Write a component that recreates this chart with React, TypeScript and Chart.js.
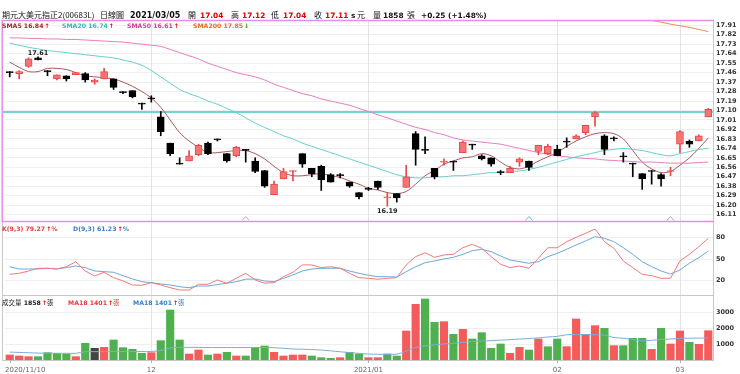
import React, { useEffect, useRef } from 'react';
import { Chart, registerables } from 'chart.js';

Chart.register(...registerables);

const stockName = '期元大美元指正2(00683L)';
const chartTitle = '日線圖';

const dates = [
  '2020/11/10','2020/11/11','2020/11/12','2020/11/13','2020/11/16','2020/11/17','2020/11/18','2020/11/19','2020/11/20','2020/11/23','2020/11/24','2020/11/25','2020/11/26','2020/11/27','2020/11/30',
  '2020/12/01','2020/12/02','2020/12/03','2020/12/04','2020/12/07','2020/12/08','2020/12/09','2020/12/10','2020/12/11','2020/12/14','2020/12/15','2020/12/16','2020/12/17','2020/12/18','2020/12/21','2020/12/22','2020/12/23','2020/12/24','2020/12/25','2020/12/28','2020/12/29','2020/12/30','2020/12/31',
  '2021/01/04','2021/01/05','2021/01/06','2021/01/07','2021/01/08','2021/01/11','2021/01/12','2021/01/13','2021/01/14','2021/01/15','2021/01/18','2021/01/19','2021/01/20','2021/01/21','2021/01/22','2021/01/25','2021/01/26','2021/01/27','2021/01/28','2021/01/29',
  '2021/02/01','2021/02/02','2021/02/03','2021/02/04','2021/02/05','2021/02/17','2021/02/18','2021/02/19','2021/02/22','2021/02/23','2021/02/24','2021/02/25','2021/02/26',
  '2021/03/02','2021/03/03','2021/03/04','2021/03/05',
];

const opens = [
  17.47,17.45,17.52,17.60,17.48,17.40,17.43,17.44,17.45,17.37,17.40,17.40,17.28,17.29,17.17,
  17.22,17.04,16.79,16.60,16.62,16.68,16.79,16.83,16.69,16.67,16.73,16.62,16.53,16.30,16.45,16.52,16.69,16.55,16.57,16.49,16.49,16.42,16.32,
  16.36,16.43,16.27,16.31,16.37,16.88,16.73,16.55,16.61,16.62,16.70,16.78,16.67,16.65,16.52,16.51,16.61,16.62,16.71,16.69,
  16.73,16.81,16.83,16.89,17.04,16.86,16.84,16.67,16.60,16.50,16.53,16.49,16.52,
  16.78,16.81,16.81,17.04,
];
const highs = [
  17.47,17.48,17.60,17.61,17.48,17.44,17.43,17.46,17.46,17.40,17.50,17.40,17.28,17.29,17.17,
  17.24,17.09,16.79,16.65,16.72,16.78,16.80,16.83,16.69,16.76,16.73,16.65,16.53,16.43,16.55,16.53,16.69,16.55,16.58,16.50,16.50,16.42,16.32,
  16.37,16.43,16.32,16.31,16.58,16.90,16.85,16.55,16.64,16.62,16.81,16.78,16.68,16.65,16.53,16.57,16.65,16.62,16.77,16.78,
  16.77,16.84,16.87,16.96,17.09,16.87,16.85,16.70,16.60,16.50,16.53,16.50,16.56,
  16.91,16.82,16.87,17.12,
];
const lows = [
  17.42,17.40,17.51,17.58,17.43,17.39,17.38,17.44,17.37,17.35,17.40,17.30,17.26,17.22,17.11,
  17.18,16.86,16.67,16.59,16.62,16.67,16.68,16.81,16.61,16.66,16.61,16.51,16.37,16.30,16.45,16.43,16.56,16.47,16.34,16.42,16.46,16.37,16.26,
  16.34,16.35,16.19,16.23,16.37,16.58,16.69,16.45,16.58,16.53,16.70,16.73,16.63,16.57,16.49,16.51,16.57,16.53,16.68,16.68,
  16.67,16.75,16.83,16.87,16.95,16.68,16.81,16.61,16.47,16.35,16.40,16.38,16.48,
  16.70,16.75,16.81,17.04,
];
const closes = [
  17.46,17.47,17.59,17.58,17.47,17.44,17.40,17.46,17.39,17.39,17.47,17.32,17.27,17.23,17.16,
  17.21,16.90,16.69,16.59,16.67,16.77,16.69,16.82,16.62,16.75,16.72,16.52,16.38,16.40,16.52,16.53,16.59,16.50,16.44,16.42,16.48,16.38,16.28,
  16.35,16.37,16.28,16.27,16.47,16.73,16.72,16.47,16.62,16.61,16.80,16.77,16.64,16.59,16.51,16.55,16.64,16.56,16.77,16.76,
  16.67,16.80,16.86,16.96,17.08,16.73,16.83,16.66,16.59,16.45,16.52,16.45,16.53,
  16.90,16.78,16.86,17.11,
];
const prevClose = 17.45;

const volumes = [
  320,254,211,211,465,423,380,211,1057,740,803,1268,782,676,423,
  465,1226,3170,1268,380,634,317,380,486,254,254,803,888,486,254,317,317,254,148,106,148,486,380,
  148,148,380,254,1839,3530,3868,2390,2430,1627,1945,1332,1733,740,1014,423,803,634,1332,845,
  1332,845,2600,1627,2177,2008,909,909,1374,1374,676,2008,1014,
  1839,1120,994,1858,
];
const volMA18 = [
  500,480,460,440,430,425,425,425,520,530,530,540,540,540,540,
  540,600,760,800,800,800,790,790,790,790,790,790,790,780,740,700,680,660,630,580,520,470,420,
  380,360,360,370,560,800,900,960,1020,1060,1120,1170,1200,1230,1260,1290,1330,1360,1400,1460,
  1500,1600,1620,1610,1600,1580,1420,1380,1300,1220,1250,1300,1330,
  1370,1380,1390,1401,
];

const sma5 = [
  17.56,17.51,17.47,17.47,17.50,17.50,17.49,17.46,17.43,17.42,17.41,17.40,17.37,17.33,17.28,
  17.22,17.13,17.01,16.89,16.81,16.75,16.70,16.70,16.71,16.72,16.72,16.69,16.64,16.57,16.51,16.48,16.48,16.49,16.50,16.48,16.465,16.43,16.40,
  16.36,16.345,16.32,16.31,16.33,16.40,16.48,16.53,16.59,16.62,16.65,16.66,16.69,16.67,16.61,16.56,16.545,16.57,16.62,16.66,
  16.70,16.76,16.81,16.85,16.88,16.89,16.88,16.83,16.72,16.61,16.545,16.51,16.52,
  16.58,16.65,16.74,16.84,
];
const sma20 = [
  17.74,17.72,17.70,17.685,17.67,17.66,17.65,17.64,17.63,17.62,17.61,17.60,17.58,17.56,17.53,
  17.48,17.42,17.36,17.30,17.26,17.23,17.19,17.16,17.12,17.08,17.03,16.98,16.94,16.90,16.86,16.83,16.79,16.76,16.73,16.70,16.67,16.64,16.61,
  16.58,16.55,16.52,16.49,16.47,16.46,16.46,16.47,16.47,16.48,16.48,16.49,16.50,16.51,16.51,16.52,16.525,16.54,16.56,16.585,
  16.61,16.635,16.66,16.68,16.70,16.72,16.73,16.74,16.73,16.72,16.70,16.68,16.67,
  16.69,16.71,16.73,16.74,
];
const sma50 = [
  17.79,17.79,17.785,17.785,17.78,17.78,17.775,17.775,17.77,17.765,17.76,17.755,17.75,17.74,17.73,
  17.72,17.71,17.68,17.65,17.62,17.59,17.55,17.52,17.49,17.46,17.44,17.42,17.39,17.35,17.32,17.29,17.26,17.24,17.21,17.19,17.17,17.15,17.12,
  17.09,17.06,17.03,17.00,16.97,16.94,16.92,16.89,16.87,16.84,16.82,16.81,16.80,16.79,16.78,16.76,16.74,16.72,16.70,16.685,
  16.67,16.66,16.65,16.645,16.64,16.63,16.625,16.62,16.615,16.61,16.61,16.605,16.60,
  16.60,16.60,16.605,16.61,
];
const sma200 = [
  null,null,null,null,null,null,null,null,null,null,null,null,null,null,null,
  null,null,null,null,null,null,null,null,null,null,null,null,null,null,null,null,null,null,null,null,null,null,null,
  null,null,null,null,null,null,null,null,null,null,null,null,null,null,null,null,null,null,null,null,
  null,null,null,null,null,null,null,null,null,17.98,17.955,17.94,17.92,
  17.905,17.89,17.87,17.85,
];

const kValues = [
  28.9,30.3,33.5,37.3,37.3,36.3,39.5,46.5,33.5,26.6,31.7,24.2,19.6,14.0,13.6,
  17.2,14.0,10.2,7.0,7.0,15.0,15.0,21.0,16.5,23.3,30.3,21.0,16.5,17.2,25.6,31.7,42.0,42.0,38.2,39.5,37.3,30.3,24.2,
  23.3,22.0,23.3,24.2,42.0,53.5,59.0,52.6,55.9,56.8,66.0,70.8,65.2,53.5,42.9,38.2,40.5,37.3,51.2,66.0,
  66.0,74.4,80.5,86.1,92.1,74.4,65.2,47.5,38.2,28.9,27.0,23.3,23.3,
  47.5,56.8,67.4,79.27,
];
const dValues = [
  39.5,36.3,36.3,36.3,37.3,36.3,38.2,40.5,38.2,33.5,32.6,31.7,27.0,22.4,18.6,
  17.2,15.4,14.0,11.6,10.2,12.6,12.6,14.6,16.5,18.6,22.0,22.4,19.6,18.6,23.3,28.0,33.5,36.3,37.3,37.3,37.3,33.5,30.3,
  27.5,25.6,25.6,25.1,32.6,39.5,45.1,47.5,50.3,52.6,56.8,61.9,63.8,60.5,54.4,48.9,46.5,44.3,46.5,53.5,
  58.2,63.8,69.8,75.4,81.4,79.2,74.4,66.0,56.8,46.5,39.5,33.5,29.3,
  34.9,44.3,52.1,61.23,
];

const refLine = 17.085;
const priceTicks = [16.11,16.20,16.29,16.38,16.47,16.56,16.65,16.74,16.83,16.92,17.01,17.10,17.19,17.28,17.37,17.46,17.55,17.64,17.73,17.82,17.91];
const kdTicks = [20, 50, 80];
const volTicks = [1000, 2000, 3000];
const xTickDates = ['2020/11/10', '2020/12/01', '2021/01/04', '2021/02/01', '2021/03/02'];
const xTickTexts = ['2020/11/10', '12', '2021/01', '02', '03'];
const signalDates = ['2020/12/15', '2021/01/27', '2021/02/26'];

const FONT = '"DejaVu Sans", Verdana, sans-serif';
const CJK = '"Noto Sans CJK TC", "Noto Sans CJK SC", sans-serif';
const RED_FILL = '#f57575';
const RED_LINE = '#e8474a';
const UP_ARROW = '#e60000';
const DOWN_ARROW = '#17a017';
const signalColors = ['#c4a6c4', '#5cc9c9', '#b8a2b8'];
const LEG = `bold 6.2px ${FONT}`;

function drawText(ctx: any, s: string, x: number, y: number, font: string, color: string) {
  ctx.font = font;
  ctx.fillStyle = color;
  ctx.textAlign = 'left';
  ctx.fillText(s, x, y);
  return x + ctx.measureText(s).width;
}

function legendItem(ctx: any, x: number, y: number, label: string, arr: number[], color: string, digits: number, suffix: string, suffixColor?: string) {
  const last = arr[arr.length - 1];
  const prev = arr[arr.length - 2];
  const upDir = last >= prev;
  let nx = drawText(ctx, `${label} ${last.toFixed(digits)}`, x, y, LEG, color);
  nx = drawText(ctx, upDir ? '↑' : '↓', nx + 1, y, LEG, upDir ? UP_ARROW : DOWN_ARROW);
  if (suffix) drawText(ctx, suffix, nx, y, suffix === '張' ? `6.5px ${CJK}` : LEG, suffixColor || color);
}

const panelsPlugin = {
  id: 'panels',
  beforeDraw(chart: any) {
    const { ctx, width, height } = chart;
    ctx.save();
    ctx.fillStyle = '#ffffff';
    ctx.fillRect(0, 0, width, height);
    ctx.restore();
  },
  beforeDatasetsDraw(chart: any) {
    const { ctx, chartArea: a, scales } = chart;
    const xs = scales.x;
    const ys = scales.y;
    ctx.save();
    ctx.strokeStyle = '#e3e3e3';
    ctx.lineWidth = 1;
    xTickDates.forEach((d, k) => {
      if (k === 0) return;
      const px = Math.round(xs.getPixelForValue(dates.indexOf(d))) + 0.5;
      ctx.beginPath();
      ctx.moveTo(px, a.top);
      ctx.lineTo(px, a.bottom);
      ctx.stroke();
    });
    const py = ys.getPixelForValue(refLine);
    ctx.strokeStyle = '#74d3d3';
    ctx.lineWidth = 2;
    ctx.beginPath();
    ctx.moveTo(2, py);
    ctx.lineTo(a.right, py);
    ctx.stroke();
    ctx.restore();
  },
  afterDraw(chart: any) {
    const { ctx, chartArea: a, scales } = chart;
    const xs = scales.x, ys = scales.y, yk = scales.yKD, yv = scales.yVol;
    const line = (x1: number, y1: number, x2: number, y2: number) => {
      ctx.beginPath(); ctx.moveTo(x1, y1); ctx.lineTo(x2, y2); ctx.stroke();
    };
    ctx.save();
    ctx.textBaseline = 'alphabetic';
    // borders
    ctx.lineWidth = 1;
    ctx.strokeStyle = '#c8c8c8';
    line(2.5, yk.top, 2.5, yv.bottom);
    line(2, Math.round(yv.top) + 0.5, a.right, Math.round(yv.top) + 0.5);
    line(2, Math.round(yv.bottom) + 0.5, a.right + 1, Math.round(yv.bottom) + 0.5);
    line(Math.round(a.right) + 0.5, ys.top, Math.round(a.right) + 0.5, yv.bottom);
    ctx.strokeStyle = '#e48fe4';
    ctx.lineWidth = 1.5;
    line(1.5, Math.round(ys.top) + 0.5, a.right + 1, Math.round(ys.top) + 0.5);
    line(1.5, Math.round(ys.bottom) + 0.5, a.right + 1, Math.round(ys.bottom) + 0.5);
    line(2.25, ys.top, 2.25, ys.bottom + 1);

    // signal markers
    signalDates.forEach((d, k) => {
      const px = xs.getPixelForValue(dates.indexOf(d));
      const by = ys.bottom - 0.5;
      ctx.strokeStyle = signalColors[k];
      ctx.lineWidth = 1;
      ctx.beginPath();
      ctx.moveTo(px - 3.5, by);
      ctx.lineTo(px, by - 4);
      ctx.lineTo(px + 3.5, by);
      ctx.stroke();
    });

    // high / low labels
    const maxH = Math.max(...highs);
    const minL = Math.min(...lows);
    const hi = highs.indexOf(maxH);
    const lo = lows.indexOf(minL);
    ctx.font = `bold 6.5px ${FONT}`;
    ctx.fillStyle = '#222';
    ctx.textAlign = 'center';
    ctx.fillText(maxH.toFixed(2), xs.getPixelForValue(hi), ys.getPixelForValue(maxH) - 1.5);
    ctx.fillText(minL.toFixed(2), xs.getPixelForValue(lo), ys.getPixelForValue(minL) + 6.5);

    // x-axis labels
    ctx.font = `7px ${FONT}`;
    xTickDates.forEach((d, k) => {
      const px = xs.getPixelForValue(dates.indexOf(d));
      const w = ctx.measureText(xTickTexts[k]).width;
      const cx = Math.max(px, 5 + w / 2);
      ctx.fillStyle = '#666';
      ctx.textAlign = 'center';
      ctx.fillText(xTickTexts[k], cx, 372);
      ctx.strokeStyle = '#b0b0b0';
      ctx.lineWidth = 1;
      line(Math.round(px) + 0.5, a.bottom, Math.round(px) + 0.5, a.bottom + 3);
    });

    // header
    const n = dates.length - 1;
    const hd = `bold 8px ${FONT}`;
    const hb = `bold 7.4px ${FONT}`;
    const hc = `8px ${CJK}`;
    const chg = closes[n] - closes[n - 1];
    const pct = (chg / closes[n - 1]) * 100;
    const sign = chg >= 0 ? '+' : '-';
    drawText(ctx, stockName, 2, 18, hc, '#111');
    drawText(ctx, chartTitle, 100, 18, hc, '#111');
    drawText(ctx, dates[n], 130, 18, hd, '#111');
    drawText(ctx, '開', 188, 18, hc, '#111');
    drawText(ctx, opens[n].toFixed(2), 200, 18, hb, '#e00000');
    drawText(ctx, '高', 231, 18, hc, '#111');
    drawText(ctx, highs[n].toFixed(2), 242, 18, hb, '#e00000');
    drawText(ctx, '低', 271, 18, hc, '#111');
    drawText(ctx, lows[n].toFixed(2), 283, 18, hb, '#e00000');
    drawText(ctx, '收', 314, 18, hc, '#111');
    drawText(ctx, closes[n].toFixed(2), 325, 18, hb, '#e00000');
    drawText(ctx, 's', 351, 18, hb, '#111');
    drawText(ctx, '元', 357, 18, hc, '#111');
    drawText(ctx, '量', 373, 18, hc, '#111');
    drawText(ctx, String(volumes[n]), 383, 18, hb, '#111');
    drawText(ctx, '張', 407, 18, hc, '#111');
    drawText(ctx, `${sign}${Math.abs(chg).toFixed(2)} (${sign}${Math.abs(pct).toFixed(2)}%)`, 421, 18, hb, '#111');

    // main legend
    const ly = ys.top + 8;
    legendItem(ctx, 2, ly, 'SMA5', sma5, '#a32b2b', 2, '');
    legendItem(ctx, 62, ly, 'SMA20', sma20, '#35b8c2', 2, '');
    legendItem(ctx, 127, ly, 'SMA50', sma50, '#d93e9e', 2, '');
    legendItem(ctx, 193, ly, 'SMA200', sma200 as number[], '#e26f2b', 2, '');

    // KD legend
    const ky = yk.top + 10;
    legendItem(ctx, 2, ky, 'K(9,3)', kValues, '#e63c3c', 2, '%');
    legendItem(ctx, 73, ky, 'D(9,3)', dValues, '#3b7fc2', 2, '%');

    // volume legend
    const vy = yv.top + 9.5;
    let vx = drawText(ctx, '成交量', 2, vy, `6.5px ${CJK}`, '#222');
    vx = drawText(ctx, ` ${volumes[n]}`, vx, vy, LEG, '#222');
    vx = drawText(ctx, volumes[n] >= volumes[n - 1] ? '↑' : '↓', vx + 1, vy, LEG, volumes[n] >= volumes[n - 1] ? UP_ARROW : DOWN_ARROW);
    drawText(ctx, '張', vx, vy, `6.5px ${CJK}`, '#222');
    legendItem(ctx, 68, vy, 'MA18', volMA18, '#e63c3c', 0, '張');
    legendItem(ctx, 133, vy, 'MA18', volMA18, '#3b7fc2', 0, '張');
    ctx.restore();
  },
};

const tickFont = { family: '"DejaVu Sans", Verdana, sans-serif', size: 6.5, weight: 'bold' as const };

export default function App() {
  const canvasRef = useRef<HTMLCanvasElement | null>(null);
  useEffect(() => {
    document.body.style.margin = '0';
    const canvas = canvasRef.current;
    if (!canvas) return;
    const idx = dates.map((_, i) => i);
    const up = idx.map((i) => closes[i] > opens[i]);
    const volDir = idx.map((i) => {
      const p = i === 0 ? prevClose : closes[i - 1];
      return closes[i] > p ? 1 : closes[i] < p ? -1 : 0;
    });
    const lineDs = (label: string, data: any[], color: string, axis: string, order: number, tension = 0) => ({
      type: 'line' as const,
      label,
      data,
      yAxisID: axis,
      borderColor: color,
      borderWidth: 1,
      pointRadius: 0,
      tension,
      order,
      fill: false,
    });
    const chart = new Chart(canvas, {
      type: 'bar',
      data: {
        labels: dates,
        datasets: [
          lineDs('SMA200', sma200, '#ee8b50', 'y', 5, 0.3),
          lineDs('SMA50', sma50, '#ea7cc2', 'y', 5, 0.3),
          lineDs('SMA20', sma20, '#68cfd0', 'y', 5, 0.3),
          lineDs('SMA5', sma5, '#a8595f', 'y', 5, 0.3),
          {
            type: 'bar',
            label: 'wick',
            data: idx.map((i) => [lows[i], highs[i]]),
            yAxisID: 'y',
            backgroundColor: idx.map((i) => (up[i] ? RED_LINE : '#000')),
            barThickness: 1,
            grouped: false,
            minBarLength: 1,
            order: 2,
          } as any,
          {
            type: 'bar',
            label: 'body',
            data: idx.map((i) => [opens[i], closes[i]]),
            yAxisID: 'y',
            backgroundColor: idx.map((i) => (up[i] ? RED_FILL : '#000')),
            borderColor: idx.map((i) => (up[i] ? RED_LINE : '#000')),
            borderWidth: 1,
            borderSkipped: false,
            barThickness: 7,
            grouped: false,
            minBarLength: 1,
            order: 1,
          } as any,
          lineDs('K', kValues, '#f27b7b', 'yKD', 0),
          lineDs('D', dValues, '#6ea7da', 'yKD', 0),
          {
            type: 'bar',
            label: 'Volume',
            data: volumes,
            yAxisID: 'yVol',
            backgroundColor: idx.map((i) => (volDir[i] > 0 ? '#f45b5b' : volDir[i] < 0 ? '#4fb04f' : '#454545')),
            barThickness: 7.5,
            grouped: false,
            order: 6,
          } as any,
          lineDs('MA18', volMA18, '#7badd9', 'yVol', 0, 0.3),
        ],
      },
      options: {
        responsive: false,
        maintainAspectRatio: false,
        devicePixelRatio: 1,
        animation: false,
        events: [],
        layout: { padding: { left: 5, top: 20, right: 0, bottom: 0 } },
        plugins: { legend: { display: false }, tooltip: { enabled: false } },
        scales: {
          x: {
            type: 'category',
            offset: true,
            grid: { display: false },
            border: { display: false },
            ticks: { display: false },
            afterFit: (s: any) => { s.height = 14; },
          },
          y: {
            type: 'linear',
            position: 'right',
            stack: 'panels',
            stackWeight: 201,
            min: 16.05,
            max: 17.96,
            afterBuildTicks: (s: any) => { s.ticks = priceTicks.map((v) => ({ value: v })); },
            afterFit: (s: any) => { s.width = 27; },
            grid: { color: '#efefef', drawTicks: false },
            border: { display: false },
            ticks: { autoSkip: false, padding: 3, font: tickFont, color: '#333', callback: (v: any) => Number(v).toFixed(2) },
          },
          yKD: {
            type: 'linear',
            position: 'right',
            stack: 'panels',
            stackWeight: 74,
            min: 0,
            max: 103.3,
            afterBuildTicks: (s: any) => { s.ticks = kdTicks.map((v) => ({ value: v })); },
            afterFit: (s: any) => { s.width = 27; },
            grid: { color: '#efefef', drawTicks: false },
            border: { display: false },
            ticks: { autoSkip: false, padding: 3, font: tickFont, color: '#333', callback: (v: any) => String(v) },
          },
          yVol: {
            type: 'linear',
            position: 'right',
            stack: 'panels',
            stackWeight: 65,
            min: 0,
            max: 4120,
            afterBuildTicks: (s: any) => { s.ticks = volTicks.map((v) => ({ value: v })); },
            afterFit: (s: any) => { s.width = 27; },
            grid: { color: '#efefef', drawTicks: false },
            border: { display: false },
            ticks: { autoSkip: false, padding: 3, font: tickFont, color: '#333', callback: (v: any) => String(v) },
          },
        } as any,
      },
      plugins: [panelsPlugin],
    } as any);
    return () => chart.destroy();
  }, []);
  return <canvas ref={canvasRef} width={740} height={374} style={{ display: 'block', width: '740px', height: '374px' }} />;
}
